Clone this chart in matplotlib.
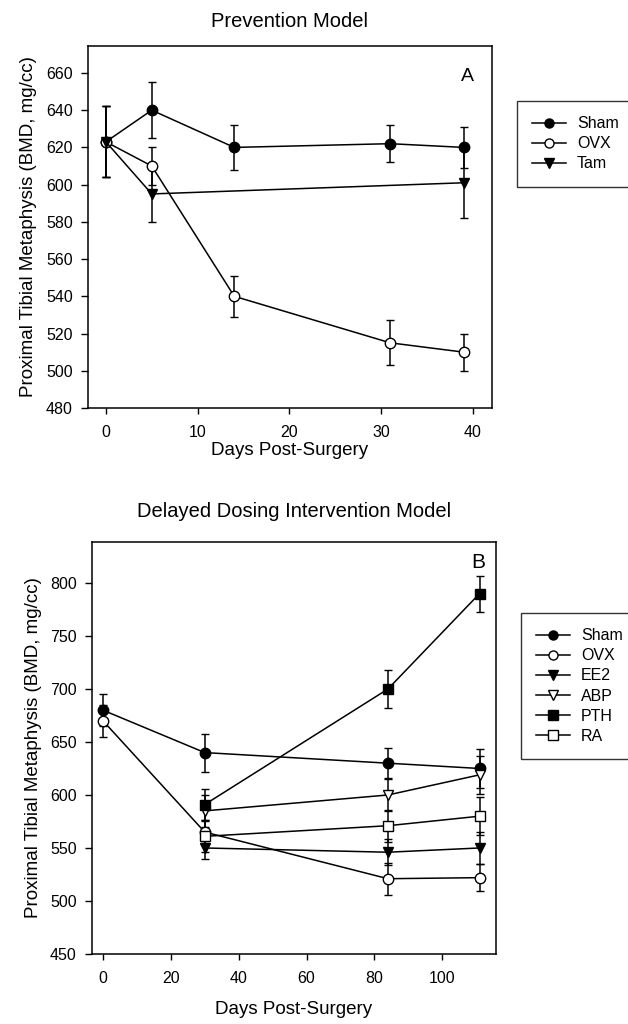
import matplotlib
matplotlib.use("Agg")
import matplotlib.pyplot as plt
from matplotlib.lines import Line2D

plt.rcParams['font.family'] = ['Liberation Sans', 'DejaVu Sans']

# Panel A - Prevention Model
daysA = [0, 5, 14, 31, 39]
shamA = [623, 640, 620, 622, 620]
shamA_err = [19, 15, 12, 10, 11]
ovxA = [623, 610, 540, 515, 510]
ovxA_err = [19, 10, 11, 12, 10]
tam_days = [0, 5, 39]
tamA = [623, 595, 601]
tamA_err = [19, 15, 19]

# Panel B - Delayed Dosing Intervention Model
daysB = [0, 30, 84, 111]
daysB_late = [30, 84, 111]
shamB = [680, 640, 630, 625]
shamB_err = [15, 18, 14, 18]
ovxB = [670, 565, 521, 522]
ovxB_err = [15, 10, 15, 13]
ee2B = [550, 546, 550]
ee2B_err = [10, 12, 15]
abpB = [585, 600, 619]
abpB_err = [15, 15, 18]
pthB = [591, 700, 790]
pthB_err = [15, 18, 17]
raB = [561, 571, 580]
raB_err = [15, 15, 18]

fig = plt.figure(figsize=(6.28, 10.24), dpi=100)
axA = fig.add_axes([0.140, 0.6016, 0.643, 0.3535])
axB = fig.add_axes([0.1465, 0.0684, 0.643, 0.4023])

def series(ax, x, y, e, marker, fill, ms=7.5):
    ax.errorbar(x, y, yerr=e, color='k', lw=1.1, marker=marker, ms=ms,
                mfc='k' if fill else 'white', mec='k', mew=1.0,
                capsize=2.6, elinewidth=1.1, capthick=1.1)

def handle(marker, fill, ms=6.5):
    return Line2D([], [], color='k', lw=1.1, marker=marker, ms=ms,
                  mfc='k' if fill else 'white', mec='k', mew=1.0)

def add_legend(handles, labels, anchor):
    leg = fig.legend(handles, labels, loc='upper left', bbox_to_anchor=anchor,
                     frameon=True, fancybox=False, edgecolor='k', handlelength=2.1,
                     handletextpad=0.7, fontsize=11.5, borderpad=0.95, labelspacing=0.32,
                     borderaxespad=0)
    leg.get_frame().set_linewidth(1.0)

series(axA, daysA, shamA, shamA_err, 'o', True)
series(axA, daysA, ovxA, ovxA_err, 'o', False)
series(axA, tam_days, tamA, tamA_err, 'v', True)
axA.set_xlim(-1.96, 42.07)
axA.set_ylim(480, 674.5)
axA.set_xticks([0, 10, 20, 30, 40])
axA.set_yticks(range(480, 661, 20))
axA.set_xlabel('Days Post-Surgery', fontsize=13.5, labelpad=2)
axA.set_ylabel('Proximal Tibial Metaphysis (BMD, mg/cc)', fontsize=13.5, labelpad=6)
axA.set_title('Prevention Model', fontsize=14.5, pad=14)
axA.text(0.955, 0.915, 'A', transform=axA.transAxes, ha='right', va='center', fontsize=14)
add_legend([handle('o', True), handle('o', False), handle('v', True)],
           ['Sham', 'OVX', 'Tam'], (517 / 628, 1 - 101 / 1024))

series(axB, daysB, shamB, shamB_err, 'o', True)
series(axB, daysB, ovxB, ovxB_err, 'o', False)
series(axB, daysB_late, ee2B, ee2B_err, 'v', True)
series(axB, daysB_late, abpB, abpB_err, 'v', False)
series(axB, daysB_late, pthB, pthB_err, 's', True, ms=6.5)
series(axB, daysB_late, raB, raB_err, 's', False, ms=6.5)
axB.set_xlim(-3.24, 115.8)
axB.set_ylim(450, 838.7)
axB.set_xticks([0, 20, 40, 60, 80, 100])
axB.set_yticks(range(450, 801, 50))
axB.set_xlabel('Days Post-Surgery', fontsize=13.5, labelpad=11)
axB.set_ylabel('Proximal Tibial Metaphysis (BMD, mg/cc)', fontsize=13.5, labelpad=6)
axB.set_title('Delayed Dosing Intervention Model', fontsize=14.5, pad=18)
axB.text(0.975, 0.95, 'B', transform=axB.transAxes, ha='right', va='center', fontsize=15)
add_legend([handle('o', True), handle('o', False), handle('v', True),
            handle('v', False), handle('s', True), handle('s', False)],
           ['Sham', 'OVX', 'EE2', 'ABP', 'PTH', 'RA'], (521 / 628, 1 - 613 / 1024))

for ax in (axA, axB):
    for s in ax.spines.values():
        s.set_linewidth(1.1)
    ax.tick_params(axis='y', direction='out', length=5, width=1.0, labelsize=11.5, pad=6)
    ax.tick_params(axis='x', direction='out', length=4, width=1.0, labelsize=11.5, pad=8)

fig.savefig('out.png', dpi=100)
